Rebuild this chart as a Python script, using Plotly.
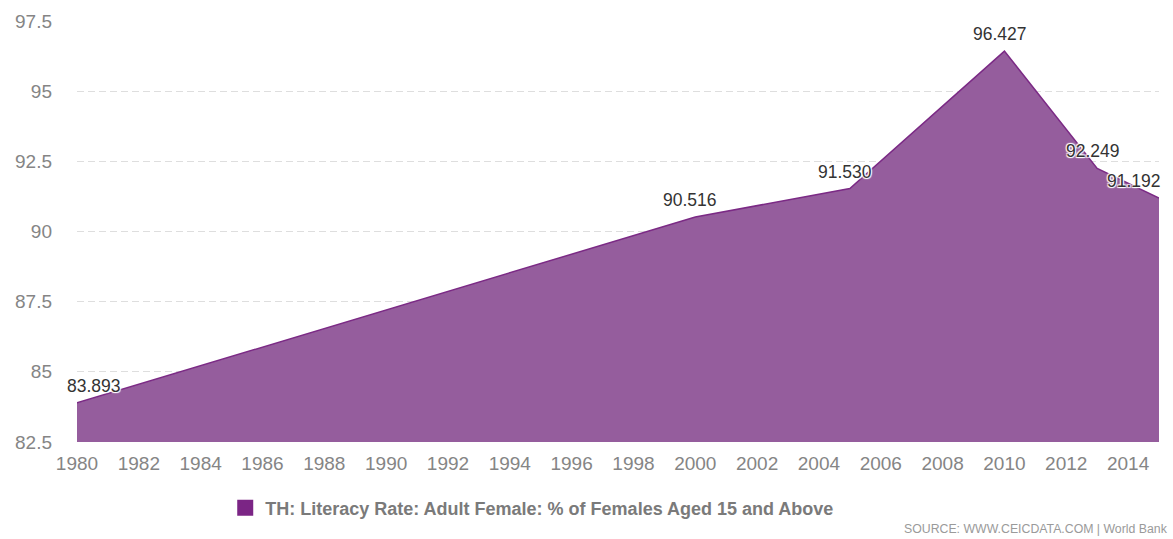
import plotly.graph_objects as go

years = [1980, 2000, 2005, 2010, 2013, 2015]
values = [83.893, 90.516, 91.530, 96.427, 92.249, 91.192]
labels = ["83.893", "90.516", "91.530", "96.427", "92.249", "91.192"]
label_xshift = [17, -5, -5, -4, -4, -25]
series_name = "TH: Literacy Rate: Adult Female: % of Females Aged 15 and Above"
x_ticks = list(range(1980, 2015, 2))
y_ticks = [82.5, 85, 87.5, 90, 92.5, 95, 97.5]
y_tick_text = ["82.5", "85", "87.5", "90", "92.5", "95", "97.5"]

FONT = "Arial, Liberation Sans, sans-serif"

fig = go.Figure()
fig.add_trace(go.Scatter(
    x=years, y=values, mode="lines", fill="tozeroy",
    line=dict(color="#7B2A85", width=1.5),
    fillcolor="#955D9D", showlegend=False, hoverinfo="x+y"))
fig.add_trace(go.Scatter(
    x=[None], y=[None], mode="markers", name=series_name,
    marker=dict(symbol="square", size=17, color="#7B2585")))

for x, y, t, dx in zip(years, values, labels, label_xshift):
    fig.add_annotation(x=x, y=y, text=t, showarrow=False, xshift=dx, yshift=17,
                       font=dict(family=FONT, size=17.5, color="#333333",
                                 shadow="1px 1px 1px white, -1px -1px 1px white, 1px -1px 1px white, -1px 1px 1px white"))

fig.add_annotation(xref="paper", yref="paper", x=1.0105, y=-0.207, xanchor="right", yanchor="middle",
                   text="SOURCE: WWW.CEICDATA.COM | World Bank", showarrow=False,
                   font=dict(family=FONT, size=12.3, color="#9a9a9a"))

fig.update_layout(
    width=1173, height=539,
    margin=dict(l=77, r=14, t=21, b=97),
    paper_bgcolor="white", plot_bgcolor="white",
    font=dict(family=FONT, color="#808080"),
    xaxis=dict(range=[1980, 2015], tickvals=x_ticks, showgrid=False, zeroline=False,
               showline=False, ticks="", ticklabelstandoff=8,
               tickfont=dict(size=19, color="#858585")),
    yaxis=dict(range=[82.5, 97.5], tickvals=y_ticks, ticktext=y_tick_text,
               showgrid=True, gridcolor="#dedede", griddash="7px,4px", zeroline=False,
               ticks="", ticklabelstandoff=24, tickfont=dict(size=19, color="#858585")),
    legend=dict(orientation="h", x=0.137, y=-0.157, xanchor="left", yanchor="middle",
                font=dict(size=18, color="#7a7a7a", family=FONT, weight="bold"),
                itemwidth=30),
)
fig.update_yaxes(layer="above traces")

fig.write_html("out.html")
